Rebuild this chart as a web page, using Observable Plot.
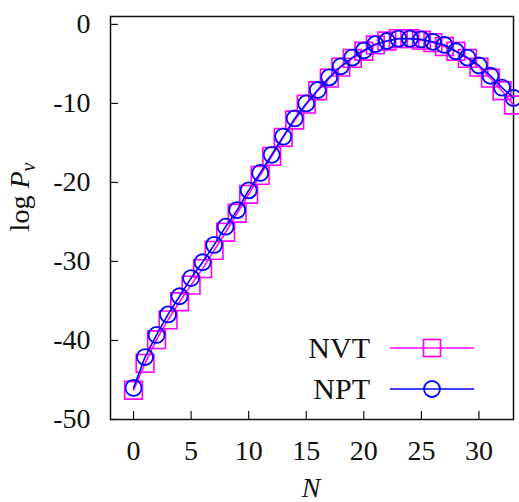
<!DOCTYPE html>
<html>
<head>
<meta charset="utf-8">
<script src="https://cdn.jsdelivr.net/npm/d3@7"></script>
<script src="https://cdn.jsdelivr.net/npm/@observablehq/plot@0.6"></script>
<style>
  html, body { margin: 0; padding: 0; background: #fff; }
  #wrap { position: relative; width: 519px; height: 502px; }
  #overlay { position: absolute; left: 0; top: 0; pointer-events: none; }
  svg, svg text, svg g { font-family: "Liberation Serif", "Times New Roman", serif !important; }
</style>
</head>
<body>
<div id="wrap"></div>
<script>
// ---- data ----
const N = [0,1,2,3,4,5,6,7,8,9,10,11,12,13,14,15,16,17,18,19,20,21,22,23,24,25,26,27,28,29,30,31,32,33];
const NVT = [-46.3,-42.9,-39.9,-37.4,-35.1,-33.0,-30.9,-28.6,-26.3,-23.9,-21.5,-19.1,-16.7,-14.3,-12.1,-10.1,-8.4,-6.8,-5.4,-4.3,-3.4,-2.6,-2.1,-1.8,-1.8,-2.0,-2.3,-2.8,-3.4,-4.3,-5.4,-6.8,-8.4,-10.2];
const NPT = [-46.0,-42.1,-39.3,-36.7,-34.4,-32.1,-30.1,-27.9,-25.6,-23.5,-21.0,-18.8,-16.5,-14.2,-11.9,-10.0,-8.3,-6.7,-5.3,-4.2,-3.3,-2.5,-2.1,-1.8,-1.8,-1.9,-2.2,-2.6,-3.4,-4.2,-5.2,-6.5,-8.0,-9.3];
const xTicks = [0,5,10,15,20,25,30];
const yTicks = [0,-10,-20,-30,-40,-50];
const seriesNames = ["NVT","NPT"];
const seriesColors = ["#ff00ff","#0000ff"];

const nvtData = N.map((n,i) => ({N: n, v: NVT[i]}));
const nptData = N.map((n,i) => ({N: n, v: NPT[i]}));

const W = 519, H = 502;
const plot = Plot.plot({
  width: W, height: H,
  marginLeft: 110, marginRight: 6, marginTop: 16, marginBottom: 83,
  style: {fontFamily: "Liberation Serif, serif", fontSize: "28px", background: "white", overflow: "visible"},
  x: {domain: [-2, 33]},
  y: {domain: [-50, 1]},
  marks: [
    Plot.axisX({ticks: xTicks, tickSize: -8, tickPadding: 29, tickFormat: d => `${d}`, label: null, strokeWidth: 1.2, fontSize: 28, color: "#111"}),
    Plot.axisY({ticks: yTicks, tickSize: -8, tickPadding: 28, tickFormat: d => `${d}`, label: null, strokeWidth: 1.2, fontSize: 28, color: "#111"}),
    Plot.frame({stroke: "#111", strokeWidth: 1.5}),
    Plot.line(nvtData, {x: "N", y: "v", stroke: seriesColors[0], strokeWidth: 1.5}),
    Plot.dot(nvtData, {x: "N", y: "v", symbol: "square", r: 10, stroke: seriesColors[0], strokeWidth: 1.6, fill: "none"}),
    Plot.line(nptData, {x: "N", y: "v", stroke: seriesColors[1], strokeWidth: 1.6}),
    Plot.dot(nptData, {x: "N", y: "v", symbol: "circle", r: 8, stroke: seriesColors[1], strokeWidth: 1.8, fill: "none"})
  ]
});
document.getElementById("wrap").appendChild(plot);

// overlay: axis labels and legend
const ov = d3.select("#wrap").append("svg").attr("id","overlay").attr("width", W).attr("height", H);

// y label: log P_v
const yl = ov.append("text")
  .attr("transform", "translate(29,197) rotate(-90)")
  .attr("text-anchor", "middle")
  .attr("font-size", 28).attr("fill", "#111");
yl.append("tspan").text("log ");
yl.append("tspan").attr("font-style", "italic").text("P");
yl.append("tspan").attr("font-style", "italic").attr("font-size", 20).attr("dy", 6).text("v");

// x label: N
ov.append("text").attr("x", 311).attr("y", 497).attr("text-anchor", "middle")
  .attr("font-size", 28).attr("font-style", "italic").attr("fill", "#111").text("N");

// legend
const legY = [348, 389];
seriesNames.forEach((name, i) => {
  const g = ov.append("g");
  g.append("text").attr("x", 370).attr("y", legY[i]).attr("dy", "0.34em")
    .attr("text-anchor", "end").attr("font-size", 30).attr("fill", "#111").text(name);
  g.append("line").attr("x1", 390).attr("x2", 474).attr("y1", legY[i]).attr("y2", legY[i])
    .attr("stroke", seriesColors[i]).attr("stroke-width", 1.5);
  if (i === 0) {
    g.append("rect").attr("x", 432 - 8.5).attr("y", legY[i] - 8.5).attr("width", 17).attr("height", 17)
      .attr("fill", "none").attr("stroke", seriesColors[i]).attr("stroke-width", 1.6);
  } else {
    g.append("circle").attr("cx", 432).attr("cy", legY[i]).attr("r", 8)
      .attr("fill", "none").attr("stroke", seriesColors[i]).attr("stroke-width", 1.8);
  }
});
</script>
</body>
</html>
